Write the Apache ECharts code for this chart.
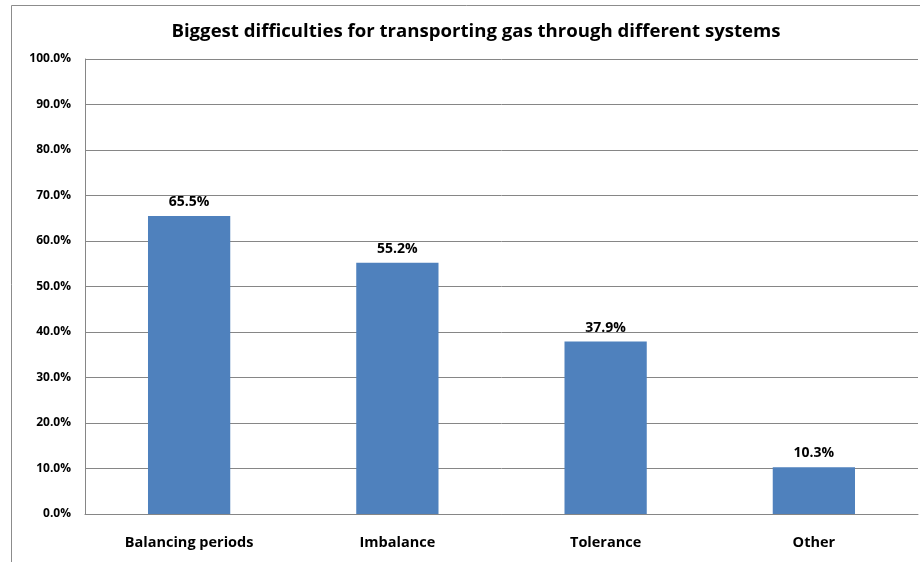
<!DOCTYPE html>
<html>
<head>
<meta charset="utf-8">
<script src="https://cdn.jsdelivr.net/npm/echarts@6/dist/echarts.min.js"></script>
<style>
html, body { margin: 0; padding: 0; background: #fff; }
#chart { width: 920px; height: 562px; }
</style>
</head>
<body>
<div id="chart"></div>
<script>
// Survey results: share of respondents naming each difficulty
const categories = ['Balancing periods', 'Imbalance', 'Tolerance', 'Other'];
const shares = [65.5, 55.2, 37.9, 10.3];
const chartTitle = 'Biggest difficulties for transporting gas through different systems';

const FONT = '"Open Sans", "Noto Sans", sans-serif';
const pct = v => Number(v).toFixed(1) + '%';

const chart = echarts.init(document.getElementById('chart'), null, { renderer: 'canvas' });
chart.setOption({
  animation: false,
  backgroundColor: '#ffffff',
  title: {
    text: chartTitle,
    left: 471,
    top: 17,
    textAlign: 'center',
    textStyle: { fontFamily: FONT, fontSize: 18.6, fontWeight: 'bold', color: '#000' }
  },
  graphic: [{
    type: 'rect',
    shape: { x: 11.5, y: 5.5, width: 1000, height: 1000 },
    style: { fill: 'none', stroke: '#8c8c8c', lineWidth: 1 },
    silent: true
  }],
  grid: { left: 85, right: 2, top: 59, bottom: 48, containLabel: false },
  xAxis: {
    type: 'category',
    data: categories,
    axisLine: { show: true, lineStyle: { color: '#868686', width: 1 } },
    axisTick: { show: false },
    axisLabel: { fontFamily: FONT, fontSize: 14.5, fontWeight: 'bold', color: '#000', margin: 21 }
  },
  yAxis: {
    type: 'value',
    min: 0,
    max: 100,
    interval: 10,
    axisLine: { show: true, lineStyle: { color: '#868686', width: 1 } },
    axisTick: { show: false },
    splitLine: { show: true, lineStyle: { color: '#868686', width: 1 } },
    axisLabel: { fontFamily: FONT, fontSize: 12, fontWeight: 'bold', color: '#000', margin: 14, formatter: pct }
  },
  series: [{
    type: 'bar',
    data: shares,
    barWidth: '39.5%',
    itemStyle: { color: '#4f81bd' },
    label: {
      show: true,
      position: 'top',
      distance: 7,
      formatter: p => pct(p.value),
      fontFamily: FONT, fontSize: 14, fontWeight: 'bold', color: '#000'
    }
  }]
});
</script>
</body>
</html>
